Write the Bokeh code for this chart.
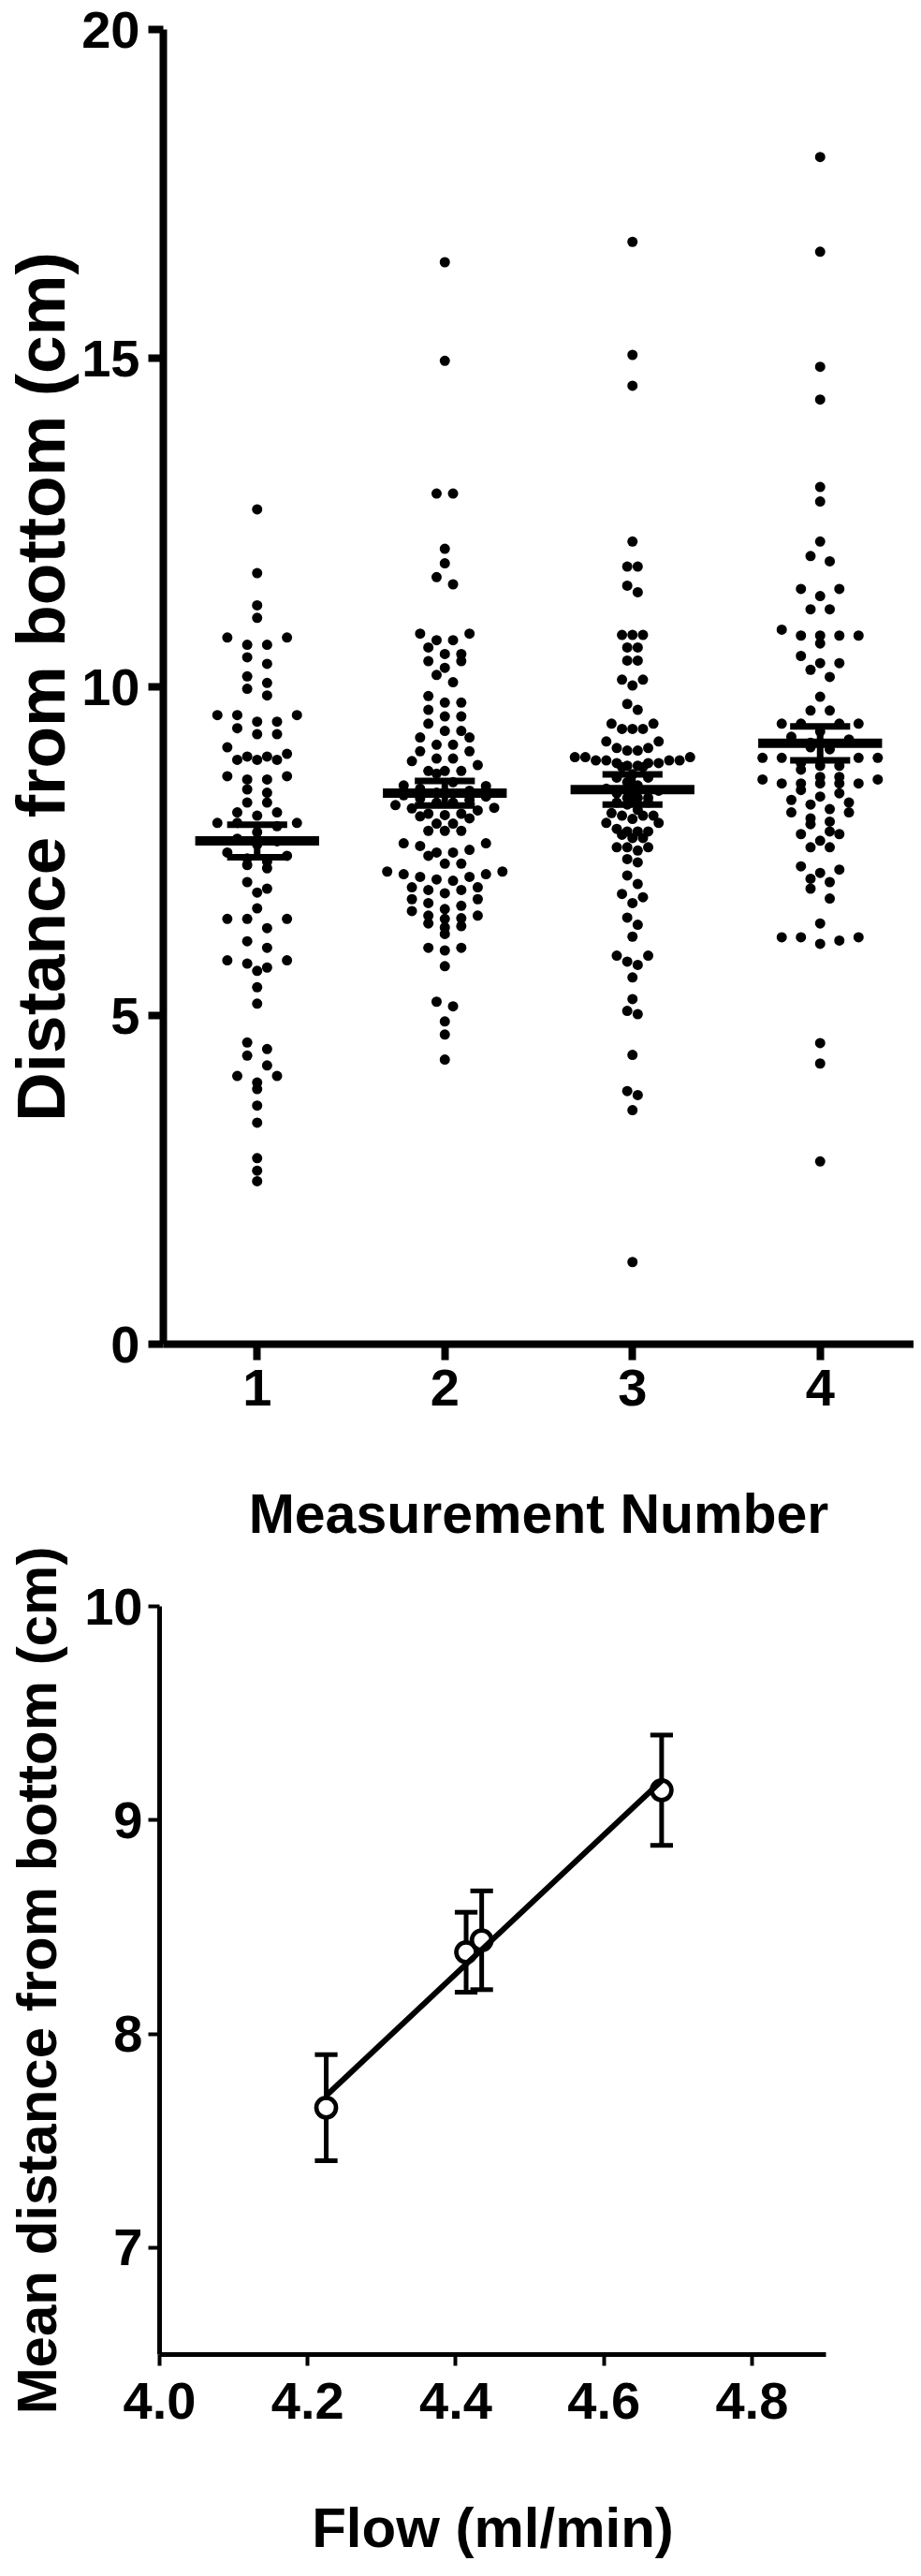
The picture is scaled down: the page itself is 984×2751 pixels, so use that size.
import numpy as np
from bokeh.plotting import figure
from bokeh.layouts import column
from bokeh.models import Range1d, FixedTicker, PrintfTickFormatter
from bokeh.embed import file_html
from bokeh.resources import INLINE

# ---------------- data ----------------
measurement_numbers = [1, 2, 3, 4]
measurement_labels = ["1", "2", "3", "4"]

group_1 = [12.70, 11.73, 11.24, 11.05, 10.75, 10.75, 10.64, 10.64, 10.45, 10.35,
           10.16, 10.06, 9.97, 9.87, 9.57, 9.57, 9.57, 9.47, 9.47, 9.37, 9.28,
           9.28, 9.08, 8.98, 8.94, 8.94, 8.89, 8.89, 8.89, 8.64, 8.64, 8.59,
           8.59, 8.44, 8.39, 8.24, 8.24, 8.09, 8.09, 8.04, 7.93, 7.93, 7.93,
           7.88, 7.79, 7.69, 7.65, 7.60, 7.48, 7.43, 7.39, 7.34, 7.29, 7.24,
           7.03, 6.93, 6.87, 6.63, 6.47, 6.47, 6.47, 6.33, 6.13, 6.03, 5.84,
           5.84, 5.79, 5.73, 5.68, 5.43, 5.18, 4.59, 4.49, 4.39, 4.24, 4.08,
           4.08, 3.98, 3.88, 3.63, 3.37, 2.83, 2.64, 2.48]

group_2 = [16.46, 14.96, 12.94, 12.94, 12.10, 11.88, 11.67, 11.56, 10.81, 10.81,
           10.71, 10.71, 10.60, 10.50, 10.50, 10.39, 10.39, 10.29, 10.18, 10.07,
           9.86, 9.76, 9.76, 9.65, 9.55, 9.55, 9.44, 9.33, 9.33, 9.23, 9.23,
           9.12, 9.12, 9.02, 9.02, 8.91, 8.91, 8.87, 8.81, 8.72, 8.72, 8.72,
           8.68, 8.55, 8.50, 8.49, 8.45, 8.42, 8.39, 8.38, 8.35, 8.33, 8.30,
           8.28, 8.24, 8.24, 8.20, 8.16, 8.15, 8.12, 8.07, 8.07, 8.05, 8.03,
           8.00, 7.92, 7.92, 7.81, 7.81, 7.81, 7.62, 7.62, 7.58, 7.52, 7.48,
           7.48, 7.43, 7.31, 7.31, 7.19, 7.19, 7.15, 7.15, 7.11, 7.11, 7.07,
           7.05, 6.95, 6.95, 6.91, 6.91, 6.86, 6.77, 6.77, 6.71, 6.67, 6.62,
           6.59, 6.52, 6.52, 6.48, 6.47, 6.40, 6.36, 6.34, 6.24, 6.03, 6.03,
           5.99, 5.75, 5.21, 5.14, 4.91, 4.71, 4.33]

group_3 = [16.77, 15.05, 14.58, 12.21, 11.83, 11.83, 11.54, 11.44, 10.79, 10.79,
           10.79, 10.60, 10.60, 10.40, 10.40, 10.11, 10.11, 10.02, 9.74, 9.65,
           9.44, 9.44, 9.36, 9.36, 9.36, 9.17, 9.17, 9.07, 9.07, 9.03, 9.03,
           8.93, 8.93, 8.93, 8.88, 8.88, 8.88, 8.88, 8.84, 8.84, 8.84, 8.80,
           8.80, 8.78, 8.78, 8.67, 8.62, 8.62, 8.55, 8.50, 8.45, 8.42, 8.38,
           8.31, 8.31, 8.31, 8.24, 8.24, 8.21, 8.13, 8.08, 8.04, 8.04, 8.04,
           7.99, 7.93, 7.93, 7.84, 7.80, 7.80, 7.80, 7.75, 7.70, 7.70, 7.56,
           7.56, 7.56, 7.51, 7.38, 7.33, 7.13, 7.00, 6.85, 6.80, 6.71, 6.49,
           6.38, 6.20, 5.91, 5.91, 5.82, 5.77, 5.58, 5.25, 5.07, 5.02, 4.40,
           3.85, 3.79, 3.56, 1.25]

group_4 = [18.06, 16.62, 14.87, 14.37, 13.04, 12.82, 12.21, 11.99, 11.91, 11.49,
           11.49, 11.38, 11.18, 11.18, 10.87, 10.78, 10.78, 10.78, 10.78, 10.66,
           10.47, 10.36, 10.36, 10.26, 10.15, 9.85, 9.64, 9.64, 9.44, 9.44,
           9.44, 9.44, 9.32, 9.24, 9.20, 9.15, 9.12, 9.08, 9.05, 8.92, 8.92,
           8.92, 8.92, 8.84, 8.80, 8.80, 8.74, 8.63, 8.63, 8.59, 8.59, 8.53,
           8.53, 8.53, 8.53, 8.53, 8.43, 8.38, 8.33, 8.28, 8.24, 8.21, 8.14,
           8.09, 8.09, 8.00, 7.95, 7.91, 7.80, 7.76, 7.76, 7.66, 7.56, 7.56,
           7.27, 7.22, 7.17, 7.08, 7.03, 6.93, 6.78, 6.40, 6.19, 6.19, 6.19,
           6.14, 6.09, 4.58, 4.27, 2.78]

groups = [group_1, group_2, group_3, group_4]

# summary (mean +/- SEM) per measurement, and flow for the second chart
flow_ml_min = [4.225, 4.414, 4.435, 4.678]
mean_distance = [7.655, 8.382, 8.438, 9.140]
sem_distance = [0.248, 0.187, 0.231, 0.258]

FONT = "Liberation Sans"


def swarm_offsets(vals, thresh=0.15, dmax=0.106, half_width=0.307):
    vals = np.asarray(vals, dtype=float)
    order = np.argsort(-vals, kind="stable")
    v = vals[order]
    rows, cur = [], [0]
    for i in range(1, len(v)):
        if v[cur[0]] - v[i] <= thresh:
            cur.append(i)
        else:
            rows.append(cur)
            cur = [i]
    rows.append(cur)
    nmax = max(len(r) for r in rows)
    d = dmax if nmax < 2 else min(dmax, 2 * half_width / (nmax - 1))
    offs_sorted = np.zeros(len(v))
    for r in rows:
        n = len(r)
        pos = (np.arange(n) - (n - 1) / 2.0) * d
        pos_order = sorted(range(n), key=lambda k: (-abs(pos[k]), pos[k]))
        for idx, k in zip(r, pos_order):
            offs_sorted[idx] = pos[k]
    offs = np.zeros(len(v))
    offs[order] = offs_sorted
    return offs


def style_axes(p, tick_size, title_x_size, title_y_size, axis_w, tick_w,
               tick_out_x, tick_out_y, std_x, std_y, lab_std_x, lab_std_y):
    p.grid.visible = False
    p.outline_line_color = None
    p.background_fill_color = "white"
    p.border_fill_color = "white"
    for ax in (p.xaxis[0], p.yaxis[0]):
        ax.axis_line_width = axis_w
        ax.axis_line_color = "black"
        ax.major_tick_line_width = tick_w
        ax.major_tick_line_color = "black"
        ax.major_tick_in = 0
        ax.minor_tick_line_color = None
        ax.major_label_text_font = FONT
        ax.major_label_text_font_style = "bold"
        ax.major_label_text_font_size = f"{tick_size}px"
        ax.major_label_text_color = "black"
        ax.axis_label_text_font = FONT
        ax.axis_label_text_font_style = "bold"
        ax.axis_label_text_color = "black"
    p.xaxis[0].major_tick_out = tick_out_x
    p.yaxis[0].major_tick_out = tick_out_y
    p.xaxis[0].major_label_standoff = std_x
    p.yaxis[0].major_label_standoff = std_y
    p.xaxis[0].axis_label_standoff = lab_std_x
    p.yaxis[0].axis_label_standoff = lab_std_y
    p.xaxis[0].axis_label_text_font_size = f"{title_x_size}px"
    p.yaxis[0].axis_label_text_font_size = f"{title_y_size}px"


# ---------------- chart 1: scatter dot plot ----------------
p1 = figure(width=976, height=1652, x_range=Range1d(0.5, 4.5), y_range=Range1d(0, 20),
            output_backend="svg", toolbar_location=None,
            min_border_left=169, min_border_right=0, min_border_top=31, min_border_bottom=201)
p1.frame_align = False
style_axes(p1, 56, 59, 73, 8, 8, 17, 16, 10, 9, 80, 0)
p1.xaxis[0].ticker = FixedTicker(ticks=measurement_numbers)
p1.xaxis[0].major_label_overrides = {m: s for m, s in zip(measurement_numbers, measurement_labels)}
p1.yaxis[0].ticker = FixedTicker(ticks=[0, 5, 10, 15, 20])
p1.xaxis[0].axis_label = "Measurement Number"
p1.yaxis[0].axis_label = "Distance from bottom (cm)"

xs, ys = [], []
for m, g in zip(measurement_numbers, groups):
    off = swarm_offsets(g)
    xs.extend(list(m + off))
    ys.extend(list(g))
p1.scatter(xs, ys, size=11, marker="circle", fill_color="black", line_color=None)

mx = np.array(measurement_numbers, dtype=float)
mm = np.array(mean_distance)
ms = np.array(sem_distance)
p1.segment(x0=mx - 0.33, x1=mx + 0.33, y0=mm, y1=mm, line_width=10, line_color="black")
p1.segment(x0=mx, x1=mx, y0=mm - ms, y1=mm + ms, line_width=7, line_color="black")
p1.segment(x0=mx - 0.16, x1=mx + 0.16, y0=mm + ms, y1=mm + ms, line_width=7, line_color="black")
p1.segment(x0=mx - 0.16, x1=mx + 0.16, y0=mm - ms, y1=mm - ms, line_width=7, line_color="black")

# ---------------- chart 2: mean vs flow ----------------
p2 = figure(width=976, height=1083, x_range=Range1d(4.0, 4.9), y_range=Range1d(6.5, 10),
            output_backend="svg", toolbar_location=None,
            min_border_left=170, min_border_right=94, min_border_top=63, min_border_bottom=206)
p2.frame_align = False
style_axes(p2, 56, 60, 60, 5, 4, 12, 12, 18, 6, 80, 14)
p2.xaxis[0].ticker = FixedTicker(ticks=[4.0, 4.2, 4.4, 4.6, 4.8])
p2.xaxis[0].formatter = PrintfTickFormatter(format="%.1f")
p2.yaxis[0].ticker = FixedTicker(ticks=[7, 8, 9, 10])
p2.xaxis[0].axis_label = "Flow (ml/min)"
p2.yaxis[0].axis_label = "Mean distance from bottom (cm)"

fx = np.array(flow_ml_min)
cap = 0.0153
p2.segment(x0=fx, x1=fx, y0=mm - ms, y1=mm + ms, line_width=5, line_color="black")
p2.segment(x0=fx - cap, x1=fx + cap, y0=mm + ms, y1=mm + ms, line_width=5, line_color="black")
p2.segment(x0=fx - cap, x1=fx + cap, y0=mm - ms, y1=mm - ms, line_width=5, line_color="black")
p2.scatter(fx, mm, size=21, marker="circle", fill_color="white", line_color="black", line_width=4.7)
slope, intercept = np.polyfit(fx, mm, 1)
lx = np.array([fx.min(), fx.max()])
p2.line(lx, slope * lx + intercept, line_width=6, line_color="black")

layout = column(p1, p2, spacing=0)
open("out.html", "w").write(file_html(layout, INLINE))
